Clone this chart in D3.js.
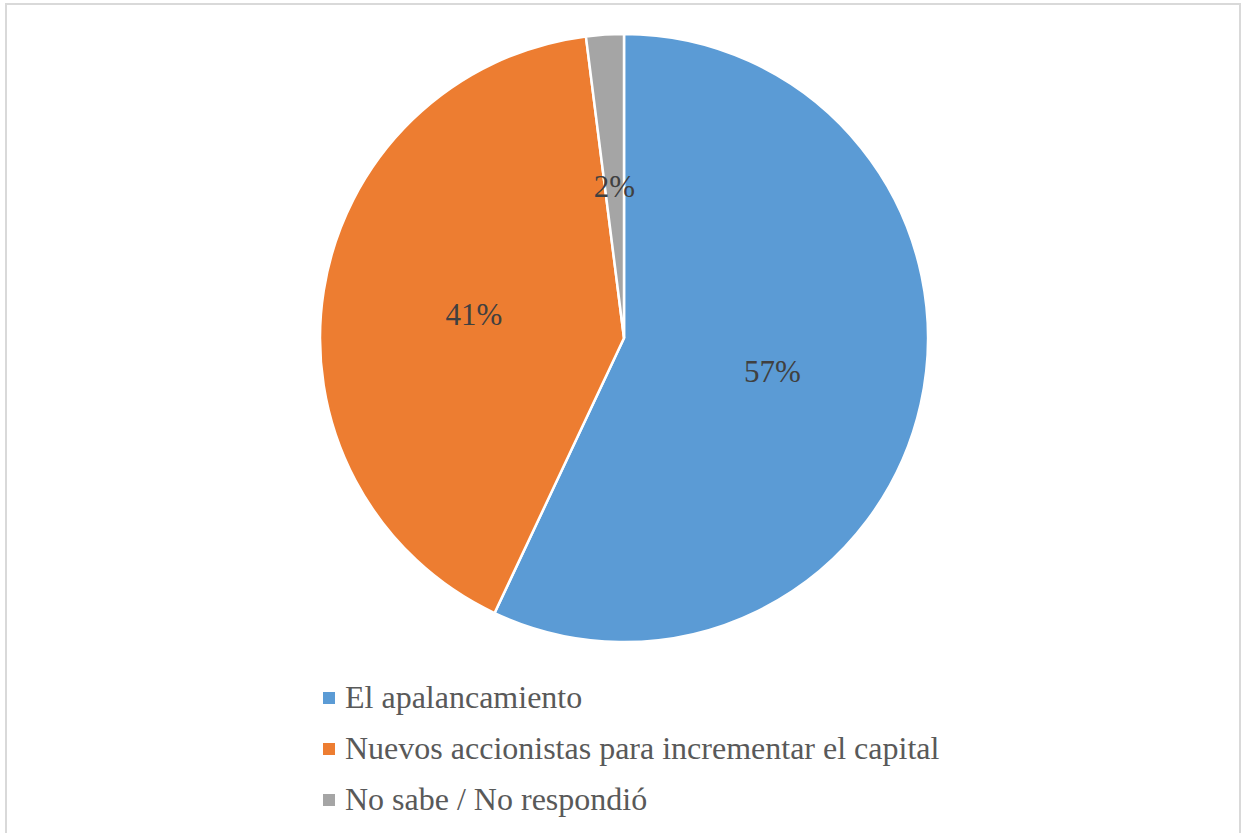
<!DOCTYPE html>
<html><head><meta charset="utf-8">
<script src="https://cdn.jsdelivr.net/npm/d3@7"></script>
<style>html,body{margin:0;padding:0;background:#fff;}svg{display:block;}</style>
</head><body>
<svg id="chart" width="1242" height="833"></svg>
<script>
const categories = ["El apalancamiento", "Nuevos accionistas para incrementar el capital", "No sabe / No respondió"];
const values = [57, 41, 2];
const colors = ["#5B9BD5", "#ED7D31", "#A5A5A5"];
const FONT = '"Liberation Serif"';

const svg = d3.select("#chart");
svg.append("rect").attr("x", 6).attr("y", 4).attr("width", 1234).attr("height", 840)
  .attr("fill", "#fff").attr("stroke", "#d9d9d9").attr("stroke-width", 2);

const cx = 624, cy = 338, r = 304;
const pie = d3.pie().sort(null).value(d => d)(values);
const arc = d3.arc().innerRadius(0).outerRadius(r);
const g = svg.append("g").attr("transform", `translate(${cx},${cy})`);
g.selectAll("path").data(pie).join("path")
  .attr("d", arc).attr("fill", (d, i) => colors[i])
  .attr("stroke", "#fff").attr("stroke-width", 2.5).attr("stroke-linejoin", "miter");
g.selectAll("text").data(pie).join("text")
  .attr("transform", d => `translate(${arc.centroid(d)})`)
  .attr("text-anchor", "middle").attr("dy", "0.35em")
  .style("font-family", FONT).style("font-size", "31px").attr("fill", "#404040")
  .text(d => d.data + "%");

const legend = svg.append("g");
const rows = legend.selectAll("g").data(categories).join("g")
  .attr("transform", (d, i) => `translate(323,${698 + i * 51})`);
rows.append("rect").attr("x", 0).attr("y", -6).attr("width", 12).attr("height", 12)
  .attr("fill", (d, i) => colors[i]);
rows.append("text").attr("x", 22).attr("y", 10)
  .style("font-family", FONT).style("font-size", "32px").attr("fill", "#595959").text(d => d);
</script>
</body></html>
